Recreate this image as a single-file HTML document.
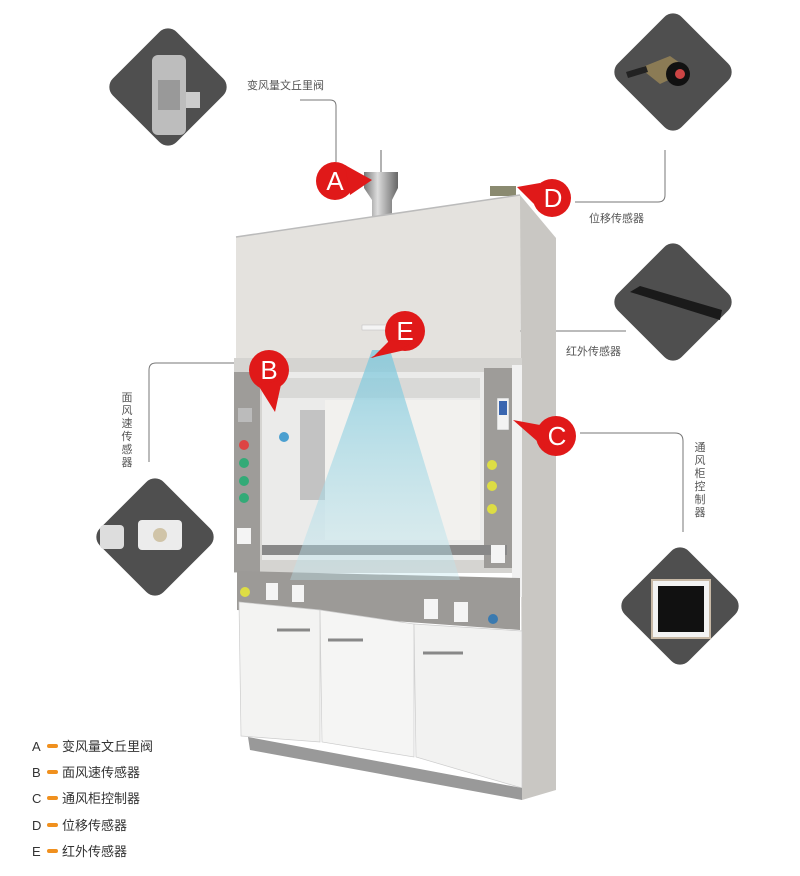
<!DOCTYPE html>
<html><head><meta charset="utf-8"><style>
html,body{margin:0;padding:0;background:#fff;}
svg{display:block;font-family:"Liberation Sans","Noto Sans CJK SC",sans-serif;}
</style></head><body>
<svg width="800" height="876" viewBox="0 0 800 876" xmlns="http://www.w3.org/2000/svg">
<defs>
<linearGradient id="beam" x1="0" y1="0" x2="0" y2="1">
<stop offset="0" stop-color="#7fc8dc" stop-opacity="0.8"/>
<stop offset="1" stop-color="#bfe6ef" stop-opacity="0.35"/>
</linearGradient>
<linearGradient id="pipe" x1="0" y1="0" x2="1" y2="0">
<stop offset="0" stop-color="#777"/><stop offset="0.4" stop-color="#ddd"/><stop offset="1" stop-color="#666"/>
</linearGradient>
</defs>

<!-- diamonds -->
<g fill="#4f4f4f">
<rect x="-45" y="-45" width="90" height="90" rx="12" transform="translate(168,87) rotate(45)"/>
<rect x="-45" y="-45" width="90" height="90" rx="12" transform="translate(673,72) rotate(45)"/>
<rect x="-45" y="-45" width="90" height="90" rx="12" transform="translate(673,302) rotate(45)"/>
<rect x="-45" y="-45" width="90" height="90" rx="12" transform="translate(155,537) rotate(45)"/>
<rect x="-45" y="-45" width="90" height="90" rx="12" transform="translate(680,606) rotate(45)"/>
</g>
<!-- diamond products -->
<rect x="152" y="55" width="34" height="80" rx="6" fill="#bdbdbd"/>
<rect x="158" y="80" width="22" height="30" fill="#999"/>
<rect x="186" y="92" width="14" height="16" fill="#ccc"/>
<path d="M640 68 l30 -12 l20 14 l-30 14z" fill="#8b7b55"/>
<circle cx="678" cy="74" r="12" fill="#111"/><circle cx="680" cy="74" r="5" fill="#c44"/>
<path d="M626 72 l20 -6 l2 6 l-20 6z" fill="#222"/>
<path d="M630 292 l10 -6 l82 24 l-2 10z" fill="#1a1a1a"/>
<rect x="652" y="580" width="58" height="58" fill="#f3f3f3" stroke="#c8b9a6" stroke-width="2"/>
<rect x="658" y="586" width="46" height="46" fill="#111"/>
<rect x="100" y="525" width="24" height="24" rx="4" fill="#ddd"/>
<rect x="138" y="520" width="44" height="30" rx="4" fill="#ececec"/>
<circle cx="160" cy="535" r="7" fill="#d0c4a8"/>

<!-- connector lines -->
<g fill="none" stroke="#777" stroke-width="1">
<path d="M300 100 H330 Q336 100 336 106 V162"/>
<path d="M575 202 H658 Q665 202 665 195 V150"/>
<path d="M428 331 H626"/>
<path d="M240 363 H156 Q149 363 149 370 V462"/>
<path d="M580 433 H675 Q683 433 683 441 V532"/>
</g>
<g font-size="11" fill="#555">
<text x="247" y="89">变风量文丘里阀</text>
<text x="589" y="222">位移传感器</text>
<text x="566" y="355">红外传感器</text>
</g>
<g font-size="11" fill="#555" text-anchor="middle">
<text x="127" y="401">面</text><text x="127" y="414">风</text><text x="127" y="427">速</text><text x="127" y="440">传</text><text x="127" y="453">感</text><text x="127" y="466">器</text>
<text x="700" y="451">通</text><text x="700" y="464">风</text><text x="700" y="477">柜</text><text x="700" y="490">控</text><text x="700" y="503">制</text><text x="700" y="516">器</text>
</g>

<!-- cabinet -->
<!-- pipe -->
<path d="M364 172 H398 V188 L392 200 V218 H372 V200 L364 188Z" fill="url(#pipe)"/>
<line x1="381" y1="150" x2="381" y2="172" stroke="#666"/>
<rect x="490" y="186" width="26" height="10" fill="#8a8a70"/>
<!-- right side panel -->
<path d="M520 195 L556 238 V790 L522 800 Z" fill="#c9c7c3"/>
<!-- hood front -->
<path d="M236 237 L520 195 V360 H236 Z" fill="#e4e2de"/>
<path d="M236 237 L520 195" stroke="#bbb" stroke-width="1.5"/>
<rect x="362" y="325" width="26" height="5" fill="#f4f4f4" stroke="#bbb" stroke-width=".5"/>
<!-- window frame -->
<rect x="234" y="358" width="288" height="215" fill="#d5d4d1"/>
<rect x="234" y="372" width="26" height="200" fill="#9e9c99"/>
<rect x="484" y="368" width="28" height="200" fill="#9e9c99"/>
<rect x="262" y="372" width="222" height="188" fill="#ebebea"/>
<rect x="268" y="378" width="212" height="20" fill="#d9d9d7"/>
<rect x="300" y="410" width="30" height="90" fill="#a9a9a9" opacity=".6"/>
<rect x="325" y="400" width="155" height="140" fill="#f2f1ee"/>
<rect x="262" y="545" width="245" height="10" fill="#888"/>
<rect x="512" y="365" width="10" height="232" fill="#f1f1f1"/>
<!-- controls -->
<rect x="238" y="408" width="14" height="14" fill="#bbb"/>
<circle cx="244" cy="445" r="5" fill="#d44"/>
<circle cx="244" cy="463" r="5" fill="#3a7"/><circle cx="244" cy="481" r="5" fill="#3a7"/><circle cx="244" cy="498" r="5" fill="#3a7"/>
<rect x="237" y="528" width="14" height="16" fill="#f4f4f4"/>
<circle cx="284" cy="437" r="5" fill="#4a9fd0"/>
<rect x="497" y="398" width="12" height="32" fill="#f3f3f3" stroke="#999" stroke-width=".5"/>
<rect x="499" y="401" width="8" height="14" fill="#3a66b0"/>
<circle cx="492" cy="465" r="5" fill="#dd4"/><circle cx="492" cy="486" r="5" fill="#dd4"/><circle cx="492" cy="509" r="5" fill="#dd4"/>
<rect x="491" y="545" width="14" height="18" fill="#f4f4f4"/>
<!-- band -->
<path d="M237 571 L520 578 V630 L237 610Z" fill="#9c9a97"/>
<circle cx="245" cy="592" r="5" fill="#dd4"/>
<rect x="266" y="583" width="12" height="17" fill="#f4f4f4"/><rect x="292" y="585" width="12" height="17" fill="#f4f4f4"/>
<rect x="424" y="599" width="14" height="20" fill="#f4f4f4"/><rect x="454" y="602" width="14" height="20" fill="#f4f4f4"/>
<circle cx="493" cy="619" r="5" fill="#3a7ab0"/>
<!-- doors -->
<path d="M239 602 L320 610 V742 L241 736Z" fill="#f3f3f2" stroke="#ccc" stroke-width=".7"/>
<path d="M320 610 L414 624 V757 L322 742Z" fill="#f5f5f4" stroke="#ccc" stroke-width=".7"/>
<path d="M414 624 L522 631 V788 L416 757Z" fill="#f2f2f1" stroke="#ccc" stroke-width=".7"/>
<path d="M277 630 h33" stroke="#888" stroke-width="3"/>
<path d="M328 640 h35" stroke="#888" stroke-width="3"/>
<path d="M423 653 h40" stroke="#888" stroke-width="3"/>
<path d="M248 737 L522 788 V800 L250 750Z" fill="#999"/>

<!-- beam -->
<path d="M372 350 L390 350 L460 580 L290 580Z" fill="url(#beam)"/>

<!-- markers -->
<g fill="#e01919">
<circle cx="335" cy="181" r="19"/><path d="M345 165 L372 180 L350 195Z"/>
<circle cx="552" cy="198" r="19"/><path d="M540 183 L517 187 L540 210Z"/>
<circle cx="405" cy="331" r="20"/><path d="M395 345 L370 358 L405 350Z M390 340 L372 358 L410 345Z"/>
<circle cx="269" cy="370" r="20"/><path d="M258 385 L275 412 L282 380Z"/>
<circle cx="556" cy="436" r="20"/><path d="M540 425 L513 420 L545 448Z"/>
</g>
<g fill="#fff" font-size="26" text-anchor="middle">
<text x="335" y="190">A</text><text x="553" y="207">D</text><text x="405" y="340">E</text><text x="269" y="379">B</text><text x="557" y="445">C</text>
</g>

<!-- legend -->
<g font-size="13" fill="#333">
<text x="32" y="751">A</text><text x="32" y="777">B</text><text x="32" y="803">C</text><text x="32" y="830">D</text><text x="32" y="856">E</text>
<text x="62" y="751">变风量文丘里阀</text><text x="62" y="777">面风速传感器</text><text x="62" y="803">通风柜控制器</text><text x="62" y="830">位移传感器</text><text x="62" y="856">红外传感器</text>
</g>
<g stroke="#f0901e" stroke-width="4" stroke-linecap="round">
<line x1="49" y1="746" x2="56" y2="746"/><line x1="49" y1="772" x2="56" y2="772"/><line x1="49" y1="798" x2="56" y2="798"/><line x1="49" y1="825" x2="56" y2="825"/><line x1="49" y1="851" x2="56" y2="851"/>
</g>
</svg>
</body></html>
